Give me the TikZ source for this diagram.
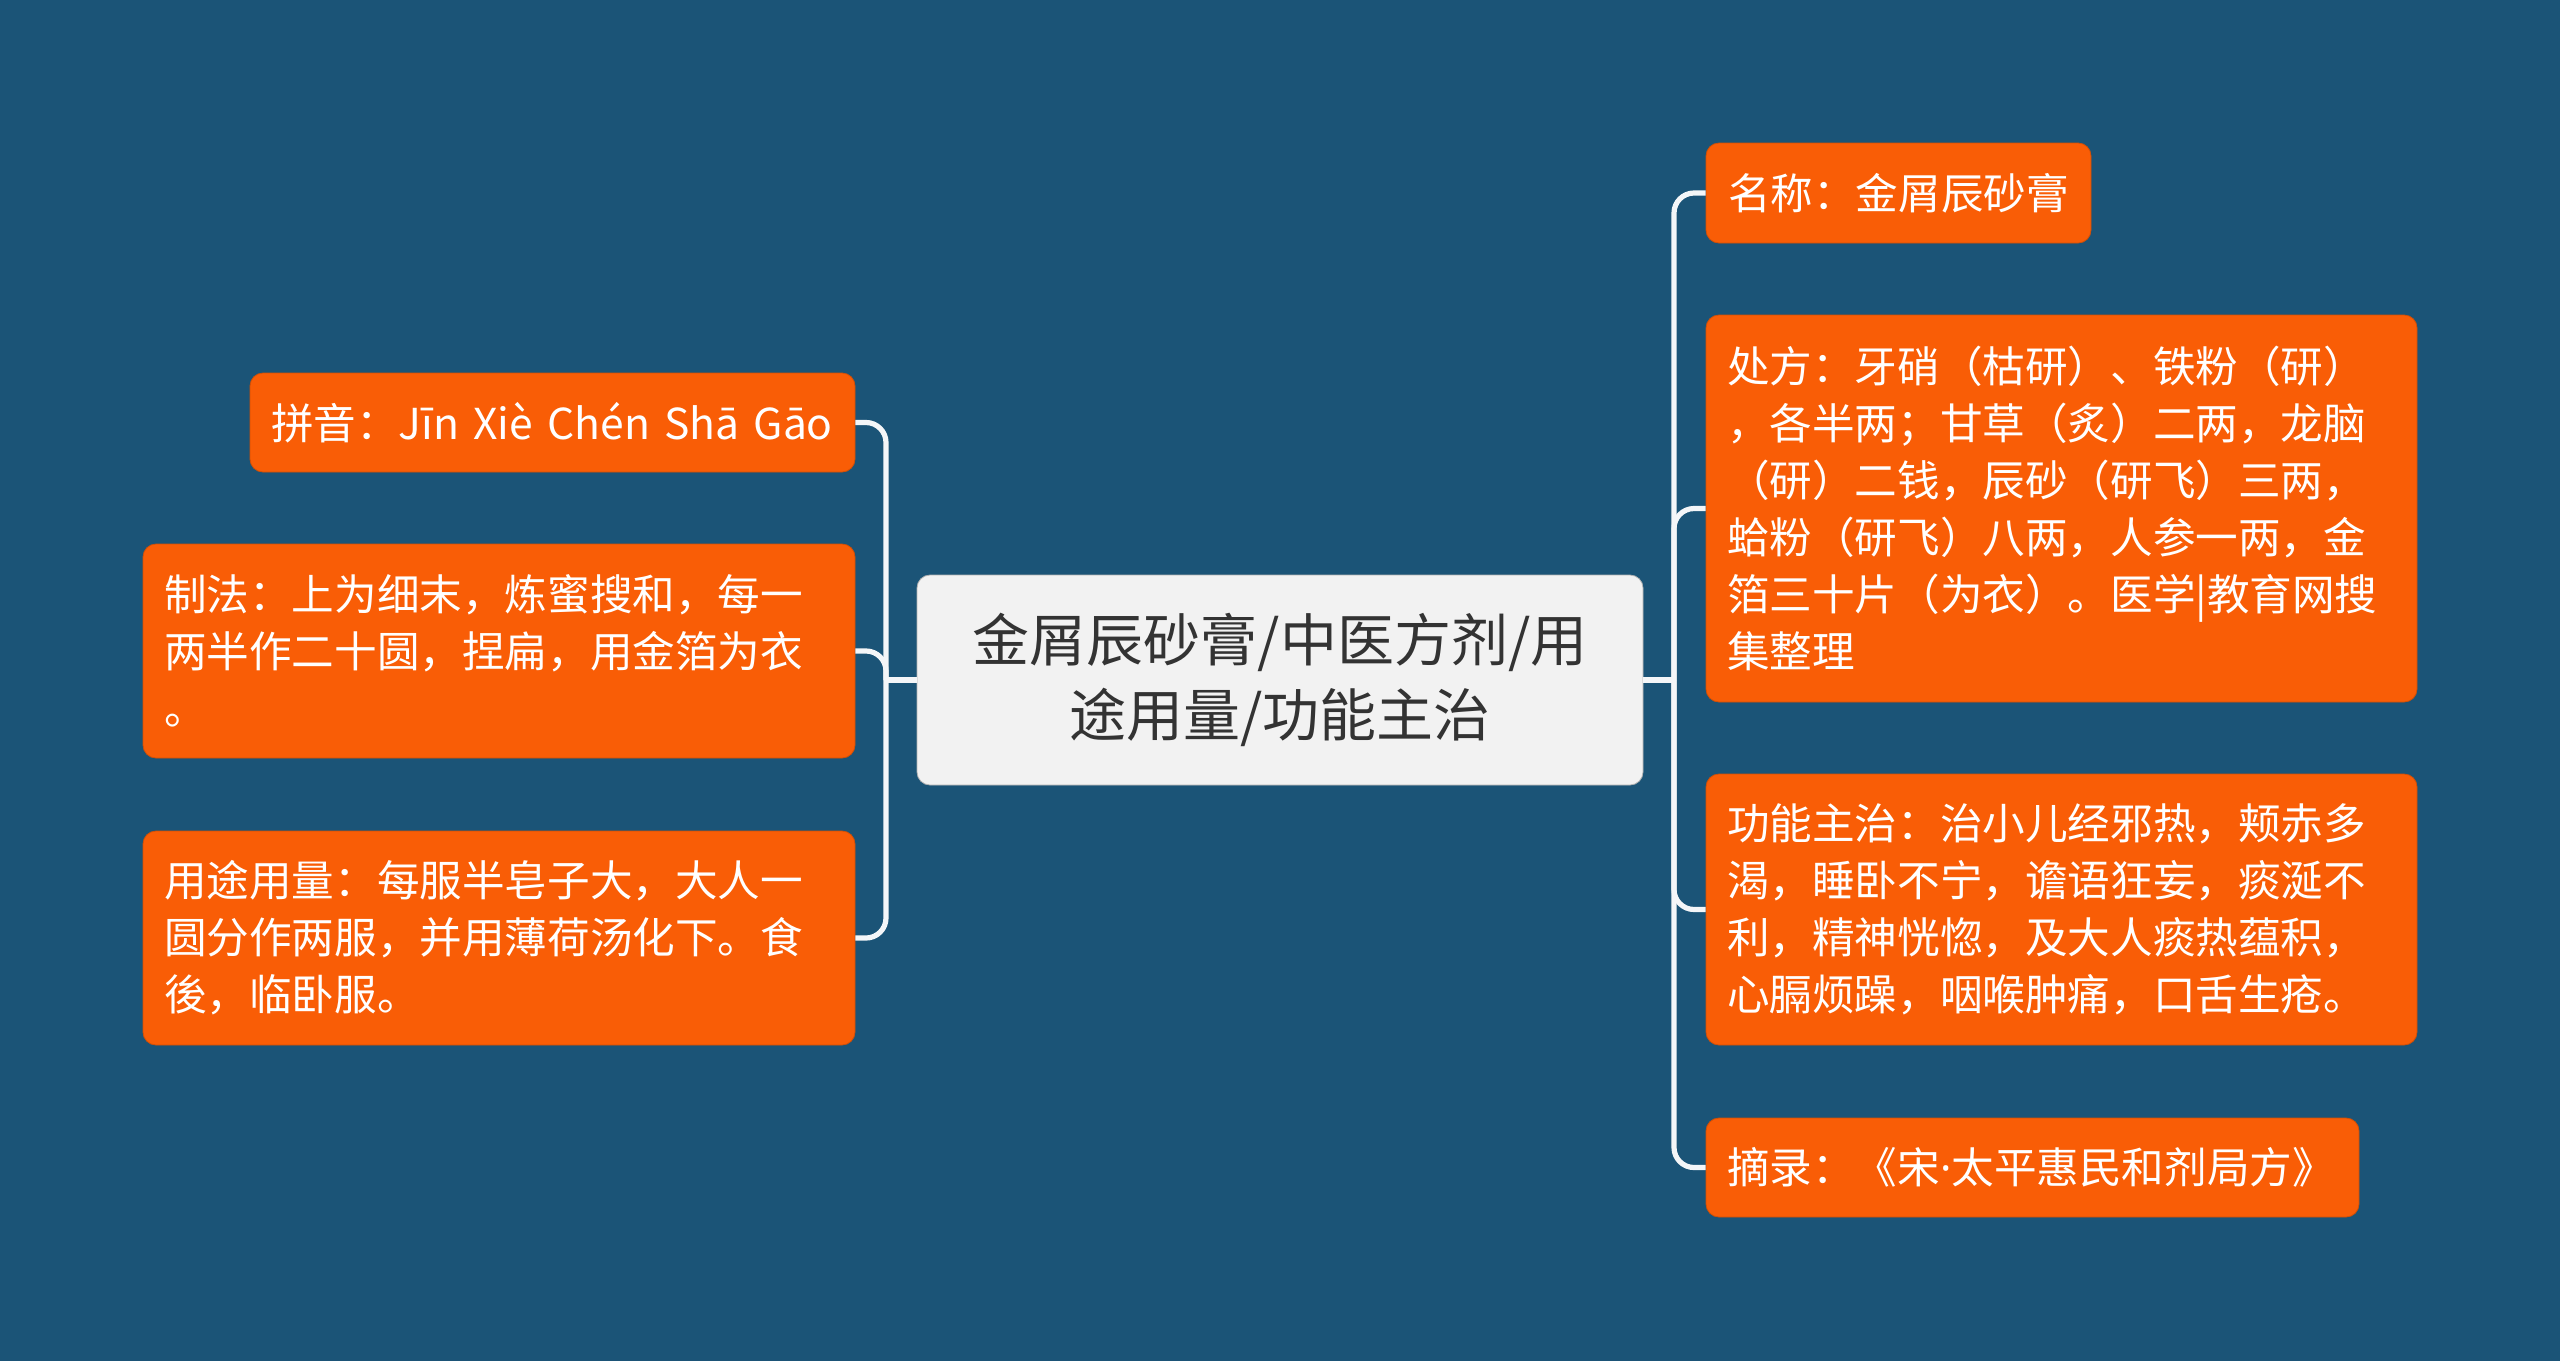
\documentclass[tikz,border=0pt]{standalone}
\usepackage{fontspec}
\setmainfont{Noto Sans CJK SC}
\newfontfamily\latinfont{Noto Sans}
\definecolor{bgblue}{RGB}{27,84,119}
\definecolor{boxorange}{RGB}{249,93,6}
\definecolor{centerfill}{RGB}{242,242,242}
\definecolor{centertext}{RGB}{51,51,51}
\tikzset{
  leafbox/.style={draw=boxorange!85!black, line width=0.4pt, fill=boxorange, rounded corners=6.5pt,
    text=white, inner xsep=10.5pt, inner ysep=0pt,
    font=\fontsize{21.3pt}{28.5pt}\selectfont},
  multibox/.style={leafbox, align=left},
  rootbox/.style={draw=gray!60, line width=0.4pt, fill=centerfill, rounded corners=6.5pt,
    text=centertext, align=center, inner sep=0pt,
    font=\fontsize{28.5pt}{37.5pt}\selectfont},
  conn/.style={draw=white!95!bgblue, line width=2.6pt, rounded corners=10pt}
}
\begin{document}
\begin{tikzpicture}[x=0.5pt,y=-0.5pt]
\fill[bgblue] (0,0) rectangle (2560,1361);
\useasboundingbox (0,0) rectangle (2560,1361);

% root
\node[rootbox, minimum width=363pt, minimum height=105pt] (root) at (1280,680)
  {金屑辰砂膏/中医方剂/用\\途用量/功能主治};

% right side
\node[leafbox, minimum width=192.5pt, minimum height=50pt] (name) at (1898.5,193)
  {名称：金屑辰砂膏};
\node[multibox, text width=334.5pt, minimum height=193.5pt] (recipe) at (2061.5,508.5)
  {处方：牙硝（枯研）、铁粉（研）\\，各半两；甘草（炙）二两，龙脑\\（研）二钱，辰砂（研飞）三两，\\蛤粉（研飞）八两，人参一两，金\\箔三十片（为衣）。医学|教育网搜\\集整理};
\node[multibox, text width=334.5pt, minimum height=135.5pt] (func) at (2061.5,909.5)
  {功能主治：治小儿经邪热，颊赤多\\渴，睡卧不宁，谵语狂妄，痰涎不\\利，精神恍惚，及大人痰热蕴积，\\心膈烦躁，咽喉肿痛，口舌生疮。};
\node[multibox, text width=305.5pt, minimum height=49.5pt] (source) at (2032.5,1167.5)
  {摘录：《宋{\latinfont ·}太平惠民和剂局方》};

% left side
\node[multibox, text width=281.5pt, minimum height=49.5pt] (pinyin) at (552.5,422.5)
  {拼音：Jīn Xiè Chén Shā Gāo};
\node[multibox, text width=335pt, minimum height=107pt] (method) at (499,651)
  {制法：上为细末，炼蜜搜和，每一\\两半作二十圆，捏扁，用金箔为衣\\。};
\node[multibox, text width=335pt, minimum height=107pt] (usage) at (499,938)
  {用途用量：每服半皂子大，大人一\\圆分作两服，并用薄荷汤化下。食\\後，临卧服。};

% connectors
\coordinate (jr) at (1674,680);
\coordinate (jl) at (886,680);
\draw[conn] (root.east) -- (jr);
\draw[conn] (root.west) -- (jl);
\draw[conn] (jr) |- (name.west);
\draw[conn] (jr) |- (recipe.west);
\draw[conn] (jr) |- (func.west);
\draw[conn] (jr) |- (source.west);
\draw[conn] (jl) |- (pinyin.east);
\draw[conn] (jl) |- (method.east);
\draw[conn] (jl) |- (usage.east);
\end{tikzpicture}
\end{document}
